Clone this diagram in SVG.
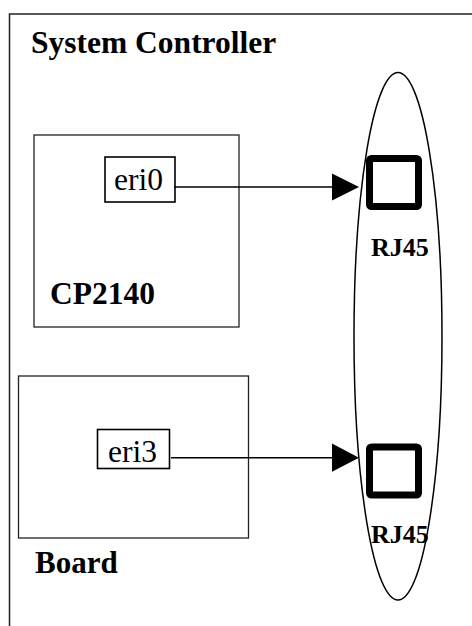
<svg xmlns="http://www.w3.org/2000/svg" width="472" height="626" viewBox="0 0 472 626">
<defs>
<style>
.box{fill:#fff;stroke:#222;stroke-width:1.3}
.port{fill:#fff;stroke:#000;stroke-width:1.6}
.rj{fill:none;stroke:#000;stroke-width:7;stroke-linejoin:round}
.conn{stroke:#000;stroke-width:1.6;fill:none}
</style>
</defs>
<rect width="472" height="626" fill="#fff"/>
<g id="system-controller">
<path d="M9.5 626 V14 H472" fill="none" stroke="#222" stroke-width="1.5"/>
<text font-family="Liberation Serif, Times New Roman, serif" font-weight="bold" x="31" y="53" font-size="31.5">System Controller</text>
</g>
<g id="cp2140">
<rect class="box" x="34" y="135" width="205" height="192"/>
<text font-family="Liberation Serif, Times New Roman, serif" font-weight="bold" x="50" y="304" font-size="31.5">CP2140</text>
</g>
<g id="eri0">
<rect class="port" x="105" y="157" width="70" height="45"/>
<text font-family="Liberation Serif, Times New Roman, serif" x="114" y="190" font-size="31.5">eri0</text>
</g>
<g id="board">
<rect class="box" x="18.5" y="376" width="230" height="162"/>
<text font-family="Liberation Serif, Times New Roman, serif" font-weight="bold" x="35" y="573" font-size="31">Board</text>
</g>
<g id="eri3">
<rect class="port" x="97.5" y="429.5" width="72" height="39"/>
<text font-family="Liberation Serif, Times New Roman, serif" x="108" y="462" font-size="31.5">eri3</text>
</g>
<g id="rj45-group">
<ellipse cx="398" cy="336.3" rx="44" ry="263.7" fill="none" stroke="#000" stroke-width="1.5"/>
</g>
<g id="rj45-1">
<rect class="rj" x="369.5" y="158.5" width="49" height="48" rx="2"/>
<text font-family="Liberation Serif, Times New Roman, serif" font-weight="bold" x="371" y="255.5" font-size="26">RJ45</text>
</g>
<g id="rj45-2">
<rect class="rj" x="369.5" y="447" width="49" height="48" rx="2"/>
<text font-family="Liberation Serif, Times New Roman, serif" font-weight="bold" x="371" y="542.5" font-size="26">RJ45</text>
</g>
<g id="connectors">
<line class="conn" x1="174" y1="187" x2="333" y2="187"/>
<polygon points="332,173.5 359,187 332,200.5" fill="#000"/>
<line class="conn" x1="171" y1="457.7" x2="333" y2="457.7"/>
<polygon points="332,443.5 359,457.7 332,471.7" fill="#000"/>
</g>
</svg>
